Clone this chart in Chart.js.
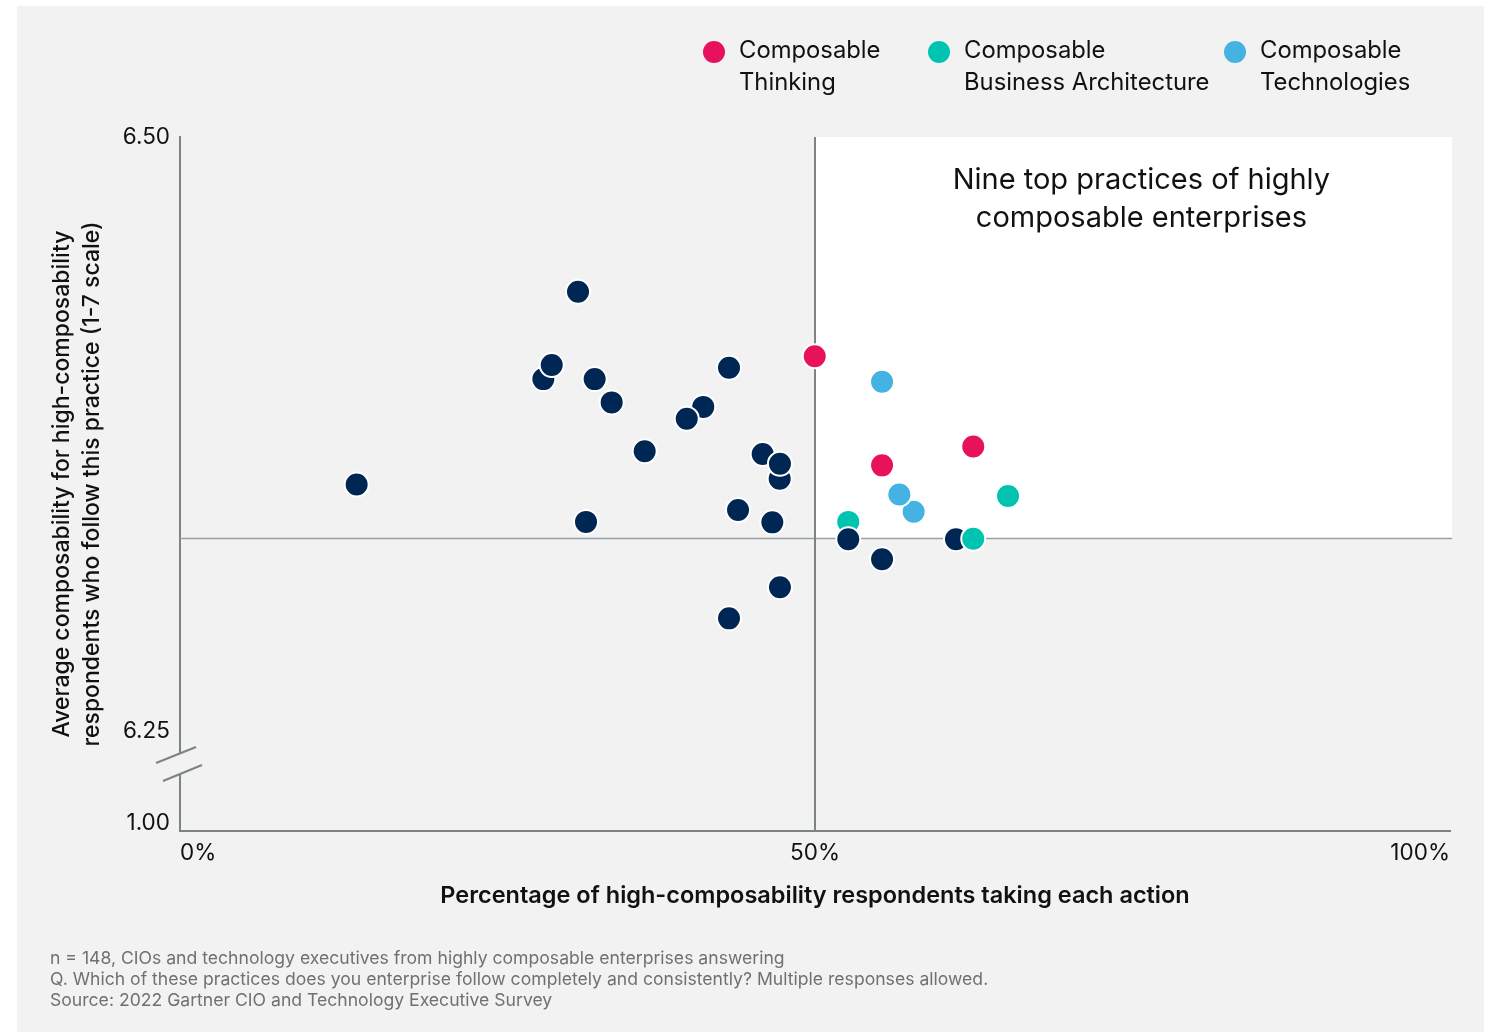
<!DOCTYPE html>
<html>
<head>
<meta charset="utf-8">
<script src="https://cdn.jsdelivr.net/npm/chart.js@4/dist/chart.umd.min.js"></script>
<style>
html,body{margin:0;padding:0;background:#fff;width:1488px;height:1032px;overflow:hidden;font-family:Inter,"Noto Sans",sans-serif;}
#card{position:absolute;left:17px;top:6px;width:1467px;height:1026px;background:#f2f2f2;}
#wrap{position:absolute;left:0;top:0;width:1488px;height:1032px;}
.leg{position:absolute;top:34px;font-size:23.8px;line-height:32px;color:#111;white-space:nowrap;}
.dot{position:absolute;top:41px;width:22px;height:22px;border-radius:50%;}
#foot{position:absolute;left:50px;top:947px;font-size:17.6px;line-height:21px;color:#707070;white-space:nowrap;}
</style>
</head>
<body>
<div id="card"></div>
<div id="wrap"><canvas id="c" width="1488" height="1032"></canvas></div>
<div id="legend"></div>
<div id="foot"></div>
<script>
// ---------- DATA ----------
const seriesNames = [["Composable","Thinking"],["Composable","Business Architecture"],["Composable","Technologies"]];
const seriesColors = ["#e8115b","#00c4b0","#44b3e1"];
const otherColor = "#002754";

const composableThinking = [
  {x:49.98,y:6.4077},{x:62.46,y:6.3697},{x:55.28,y:6.3618}
];
const composableBusinessArchitecture = [
  {x:65.20,y:6.3489},{x:52.62,y:6.3380},{x:62.46,y:6.3309}
];
const composableTechnologies = [
  {x:55.28,y:6.3970},{x:57.77,y:6.3423},{x:56.64,y:6.3495}
];
const otherPractices = [
  {x:13.91,y:6.3537},{x:28.61,y:6.3981},{x:29.27,y:6.4040},{x:31.34,y:6.4349},
  {x:31.97,y:6.3380},{x:32.65,y:6.3981},{x:33.99,y:6.3883},{x:36.59,y:6.3677},
  {x:41.20,y:6.3864},{x:39.90,y:6.3814},{x:43.23,y:6.4029},{x:43.94,y:6.3430},
  {x:43.23,y:6.2974},{x:45.88,y:6.3666},{x:47.22,y:6.3562},{x:47.24,y:6.3625},
  {x:46.64,y:6.3378},{x:47.24,y:6.3105},{x:55.28,y:6.3223},{x:61.10,y:6.3307}
];
const otherPracticesOverlay = [{x:52.62,y:6.3307}];

const xTickValues = [0,50,100];
const xTickLabels = ["0%","50%","100%"];
const yTickValues = [6.2113,6.25,6.50];
const yTickLabels = ["1.00","6.25","6.50"];
const yAxisMin = 6.2079, yAxisMax = 6.50;
const yBreakValue = 6.2361;
const xThreshold = 50, yThreshold = 6.331;

const xTitle = "Percentage of high-composability respondents taking each action";
const yTitle = ["Average composability for high-composability","respondents who follow this practice (1-7 scale)"];
const annotationText = ["Nine top practices of highly","composable enterprises"];
const footnote = [
  "n = 148, CIOs and technology executives from highly composable enterprises answering",
  "Q. Which of these practices does you enterprise follow completely and consistently? Multiple responses allowed.",
  "Source: 2022 Gartner CIO and Technology Executive Survey"
];

// ---------- HTML legend & footnote ----------
const legendX = [703,928,1224];
const legendEl = document.getElementById('legend');
seriesNames.forEach((lines,i)=>{
  const d=document.createElement('div');d.className='dot';d.style.left=legendX[i]+'px';d.style.background=seriesColors[i];
  legendEl.appendChild(d);
  const t=document.createElement('div');t.className='leg';t.style.left=(legendX[i]+36)+'px';
  t.innerHTML=lines.join('<br>');legendEl.appendChild(t);
});
document.getElementById('foot').innerHTML = footnote.join('<br>');

// ---------- CHART ----------
Chart.defaults.font.family = 'Inter, "Noto Sans", sans-serif';
const axisGray = '#7b8386';

const quadrantPlugin = {
  id:'quadrant',
  beforeDatasetsDraw(chart){
    const {ctx, chartArea:a, scales:{x,y}} = chart;
    const x50 = x.getPixelForValue(xThreshold);
    const yRef = y.getPixelForValue(yThreshold);
    const yTop = y.getPixelForValue(yAxisMax);
    ctx.save();
    ctx.fillStyle = '#ffffff';
    ctx.fillRect(x50, yTop, a.right + 2 - x50, yRef - yTop);
    ctx.strokeStyle = '#9aa1a3';
    ctx.lineWidth = 1.5;
    ctx.beginPath(); ctx.moveTo(a.left, yRef); ctx.lineTo(a.right + 2, yRef); ctx.stroke();
    ctx.strokeStyle = axisGray;
    ctx.lineWidth = 2;
    ctx.beginPath(); ctx.moveTo(x50, yTop); ctx.lineTo(x50, a.bottom); ctx.stroke();
    ctx.fillStyle = '#111';
    ctx.font = '29px Inter, "Noto Sans", sans-serif';
    ctx.textAlign = 'center'; ctx.textBaseline = 'middle';
    const ax = x.getPixelForValue(75.7);
    annotationText.forEach((t,i)=>ctx.fillText(t, ax, yTop + 43 + i*38));
    const yb = y.getPixelForValue(yBreakValue);
    const lx = a.left;
    ctx.clearRect(lx - 3, yb - 10, 6, 20);
    ctx.strokeStyle = axisGray; ctx.lineWidth = 2;
    ctx.beginPath(); ctx.moveTo(lx - 24, yb - 1); ctx.lineTo(lx + 16, yb - 17); ctx.stroke();
    ctx.beginPath(); ctx.moveTo(lx - 17, yb + 17); ctx.lineTo(lx + 22, yb + 1); ctx.stroke();
    ctx.restore();
  }
};

const pointStyle = {pointRadius:12, pointBorderWidth:2, pointBorderColor:'#ffffff', pointHoverRadius:12};
new Chart(document.getElementById('c'), {
  type:'scatter',
  data:{datasets:[
    {label:'Other practices', data:otherPracticesOverlay, backgroundColor:otherColor, order:0, ...pointStyle},
    {label:seriesNames[1].join(' '), data:composableBusinessArchitecture, backgroundColor:seriesColors[1], order:1, ...pointStyle},
    {label:seriesNames[0].join(' '), data:composableThinking, backgroundColor:seriesColors[0], order:2, ...pointStyle},
    {label:seriesNames[2].join(' '), data:composableTechnologies, backgroundColor:seriesColors[2], order:3, ...pointStyle},
    {label:'Other practices', data:otherPractices, backgroundColor:otherColor, order:4, ...pointStyle}
  ]},
  options:{
    responsive:false, animation:false, events:[],
    layout:{padding:{left:32, top:137, right:38, bottom:121}},
    plugins:{legend:{display:false}, tooltip:{enabled:false}},
    scales:{
      x:{
        type:'linear', min:0, max:100,
        afterBuildTicks(s){ s.ticks = xTickValues.map(v=>({value:v})); },
        afterFit(s){ s.height = 80; },
        ticks:{callback:(v,i)=>xTickLabels[i], font:{size:22.5}, color:'#111', padding:9, align:'inner', maxRotation:0, autoSkip:false},
        grid:{display:false, drawTicks:false},
        border:{color:axisGray, width:2},
        title:{display:true, text:xTitle, font:{size:23.5, weight:'600', lineHeight:1.2}, color:'#111', padding:{top:0,bottom:1}}
      },
      y:{
        type:'linear', min:yAxisMin, max:yAxisMax,
        afterBuildTicks(s){ s.ticks = yTickValues.map(v=>({value:v})); },
        afterFit(s){ s.width = 148; },
        ticks:{callback:(v,i)=>yTickLabels[i], font:{size:22.5}, color:'#111', padding:10, autoSkip:false},
        grid:{display:false, drawTicks:false},
        border:{color:axisGray, width:2},
        title:{display:true, text:yTitle, font:{size:23, weight:'500', lineHeight:1.3}, color:'#111', padding:{top:15,bottom:0}}
      }
    }
  },
  plugins:[quadrantPlugin]
});
</script>
</body>
</html>
